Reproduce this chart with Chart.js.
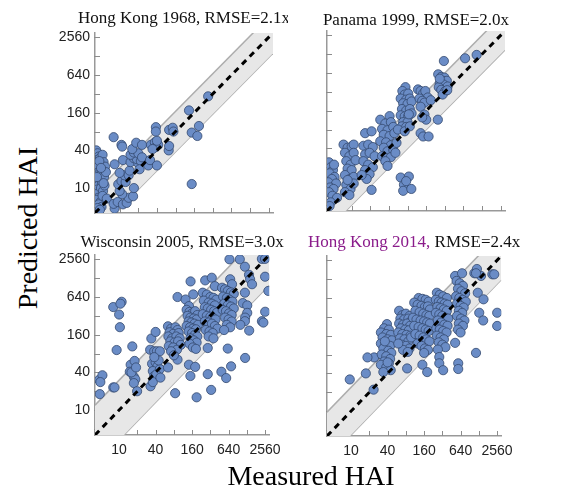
<!DOCTYPE html>
<html>
<head>
<meta charset="utf-8">
<script src="https://cdn.jsdelivr.net/npm/chart.js@4"></script>
<style>
  body { margin: 0; background: #fff; width: 571px; height: 496px; position: relative; overflow: hidden; }
  canvas { position: absolute; }
  .big { position: absolute; font-family: "Liberation Serif", "Times New Roman", serif; font-size: 28px; line-height: 28px; color: #000; text-align: center; white-space: nowrap; }
  #xlabel { left: 0; width: 622px; top: 462px; }
  #ylabel { left: -122px; top: 214px; width: 300px; height: 28px; transform: rotate(-90deg); }
</style>
</head>
<body>
<canvas id="p1" width="243" height="243" style="left:45px;top:0px"></canvas>
<canvas id="p2" width="243" height="243" style="left:277px;top:-2px"></canvas>
<canvas id="p3" width="243" height="243" style="left:45px;top:222px"></canvas>
<canvas id="p4" width="243" height="243" style="left:277px;top:223px"></canvas>
<div class="big" id="ylabel">Predicted HAI</div>
<div class="big" id="xlabel">Measured HAI</div>
<script>
// log2 axes, same range on both
const tickVals = [5, 10, 20, 40, 80, 160, 320, 640, 1280, 2560];
const tickLabels = [10, 40, 160, 640, 2560];
const axisMin = 4;
const axisMax = 3000;

const rmse = [2.1, 2.0, 3.0, 2.4];

// [measured, predicted]
const hongKong1968 = [
  [4.2,40],[4.4,36],[4.6,32],[4.3,28],[4.8,30],[5.0,25],[4.5,22],[5.3,34],[4.2,19],[4.7,20],
  [5.5,26],[4.4,16],[5.1,17],[4.9,14],[4.3,13],[5.8,22],[4.6,11],[5.2,12],[4.4,9.5],[5.6,15],
  [4.8,8.5],[4.2,8],[5.0,10],[4.5,7],[5.4,9],[4.3,6.5],[4.9,6],[5.7,11],[4.6,5.5],[5.1,5],
  [4.4,4.8],[5.3,7.5],[4.8,4.5],[4.2,24],[6.0,18],[5.5,12],[4.7,27],[5.0,21],[4.3,15],[6.2,6.8],
  [8.3,4.7],[8,5.6],[9.3,6],[11.3,5.5],[13,5.8],[14,7],[11,8],[10,9],[16.5,7.4],[17,10],
  [9.5,11.5],[10.7,13],[12.5,12.5],[12,16],[10,17.5],[14,16],[8.3,24],[11.3,28],[14.5,19],[15,26],
  [17,30],[20,25],[19,29],[22,27],[21,20],[15,34],[17,37],[20,36],[23,31],[16,42],
  [18.5,53],[23,49],[29,23],[31,28],[40,23],[10.7,49],[11,46],[8,65],[32,49],[37,54],
  [38,45],[42,49],[34,42],[40,57],[38.5,94],[38.5,80],[62,40],[63,47],[63,85],[72,92],
  [74,80],[132,174],[146,77],[180,68],[191,98],[269,292],[146,11.6]
];

const panama1999 = [
  [4.3,24],[4.6,20],[5.0,18],[4.4,16],[5.3,14],[4.8,13],[4.2,11.5],[5.6,11],[4.5,9.5],[5.1,9],
  [4.3,8],[4.9,7],[5.8,6.5],[4.6,5.5],[4.4,4.8],[5.2,22],
  [7.4,46],[8.6,41],[10,43],[10.8,46],[7.8,34],[9.2,30],[10.8,34],[8.2,25],[9.6,22],[11.6,26],
  [8.6,19],[10,18],[7.8,15],[9.4,13],[10.8,14],[8.2,10.5],[9.6,9],[7.8,8],[9.2,7.2],[10.8,11],[8.6,12.5],
  [16.5,70],[21,75],[15.5,44],[18.5,46],[22,42],[16.5,32],[19.5,34],[23.5,30],[15.5,25],[18.5,22],
  [22,20],[16.5,18],[19.5,15.5],[17.5,13],[21,8.7],[14.5,15],
  [41,131],[29,115],[35,100],[43,105],[31,82],[38,78],[47,88],[33,66],[41,63],[49,70],
  [29,52],[36,50],[43,45],[33,41],[38,36],[47,38],[31,30],[36,28],[43,29],[35,25],[38,21],[53,49],[51,34],
  [74,380],[66,330],[72,290],[82,300],[62,250],[76,240],[87,250],[68,210],[80,205],[93,225],
  [65,170],[76,160],[87,170],[62,135],[72,130],[82,130],[93,145],[68,105],[80,105],[65,90],
  [76,88],[56,80],[72,75],[87,90],[84,140],
  [118,350],[130,330],[143,300],[155,330],[170,260],[125,250],[138,230],[150,215],[190,235],[130,185],
  [150,139],[160,115],[130,70],[143,62],[175,62],[138,125],
  [250,610],[280,555],[315,540],[295,480],[345,480],[265,440],[305,420],[355,390],[255,380],[280,345],
  [325,330],[295,290],[350,340],[247,115],[265,520],
  [309,995],[680,1100],[1045,1245],
  [62,13.7],[84,14.2],[70,10.5],[68,8.4],[92,9.0],[76,12]
];

const wisconsin2005 = [
  [8,442],[11,537],[10.5,500],[10,336],[10.3,211],[9.1,91],
  [4.7,30.5],[5.3,36],[4.9,28],[4.8,18],[8,23],[8.4,23],
  [16.5,104],[15.5,53],[18,61],[15,41],[17.5,34],[18.5,31],[17.5,27],[16,40],[19.8,20],[19,48],
  [34,139],[40,177],[32.5,92],[38,87],[42,87],[47,87],[35,55],[40,58],[43,50],[36,42],
  [38,35],[47,45],[41,37],[33,24],[36,28],[48,33],[45,62],[38,70],
  [64,218],[72,200],[85,210],[92,190],[68,175],[78,165],[96,170],[65,150],[75,140],[88,150],
  [100,140],[70,125],[82,120],[94,125],[104,110],[66,105],[78,100],[90,92],[72,87],[64,48],
  [92,64],[84,18.6],[92,640],[80,75],
  [125,584],[142,458],[167,704],[151,1135],[130,400],[145,370],[160,350],[180,380],[195,330],[135,320],
  [150,300],[170,290],[190,280],[140,260],[155,250],[175,240],[200,230],[130,220],[148,210],[165,200],
  [185,195],[140,180],[160,170],[178,160],[195,150],[150,140],[170,130],[190,120],[145,115],[165,100],
  [185,95],[142,53],[180,49],[150,35],[190,16],
  [263,1180],[338,1300],[380,955],[240,750],[280,700],[320,640],[360,620],[400,580],[250,560],[300,520],
  [340,500],[380,470],[260,440],[290,420],[330,400],[370,380],[410,360],[240,340],[280,320],[320,310],
  [350,300],[390,280],[260,260],[300,250],[340,240],[380,220],[420,200],[270,190],[310,180],[350,170],
  [290,98],[290,37.5],[330,21],[300,150],[360,140],
  [662,2560],[680,1230],[730,1024],[500,900],[560,850],[620,800],[700,760],[780,720],[520,650],[600,620],
  [660,580],[740,540],[540,500],[620,470],[700,450],[780,420],[510,400],[580,380],[650,350],[720,330],
  [560,300],[640,280],[720,260],[600,230],[680,210],[540,190],[487,41],[584,32.5],[620,96],[704,50],
  [980,2560],[1190,1950],[1390,1450],[1450,1230],[1560,1024],[1190,750],[1100,512],[1300,470],[1300,357],[1200,300],
  [1190,263],[1000,230],[1400,186],[1200,68],[2270,263],[2400,250],[2570,372],[2560,1350],[2270,2600],[2560,2600],[2900,800]
];

const hongKong2014 = [
  [9.5,32],[17.5,40],[24,72],[18.6,72],[23.5,22],
  [39,245],[35,210],[42,200],[31,180],[38,170],[45,165],[33,150],[40,140],[47,135],[31,120],
  [37,115],[44,110],[34,100],[41,92],[46,85],[32,80],[38,75],[44,68],[35,62],[42,58],
  [31,55],[38,50],[45,45],[34,42],[40,60],[36,130],
  [62,400],[70,340],[80,360],[92,330],[65,300],[75,290],[88,300],[96,270],[62,250],[72,240],
  [84,250],[94,230],[66,210],[78,200],[90,195],[60,180],[70,170],[82,165],[95,160],[64,145],
  [76,140],[88,130],[68,115],[80,110],[92,100],[72,95],[86,88],[84,48],[98,150],[60,120],
  [130,640],[150,620],[170,600],[190,560],[110,540],[125,500],[145,480],[165,460],[185,470],[200,420],
  [115,400],[135,380],[155,360],[175,340],[195,330],[105,310],[120,290],[140,280],[160,270],[180,260],
  [200,250],[110,230],[130,220],[150,210],[170,200],[190,190],[115,170],[135,160],[155,150],[175,140],
  [195,130],[125,120],[145,110],[165,100],[185,95],[150,55],[180,42],[160,85],
  [260,776],[290,720],[330,680],[380,640],[250,600],[280,560],[310,540],[350,520],[390,500],[265,460],
  [300,440],[340,420],[380,400],[250,370],[285,350],[320,330],[360,310],[400,300],[270,280],[305,260],
  [345,240],[390,230],[255,210],[290,200],[330,190],[375,180],[260,160],[300,150],[340,140],[280,125],
  [320,115],[360,105],[270,96],[285,73],[285,58],[330,45],
  [520,1440],[677,1590],[550,1200],[620,1100],[700,1000],[580,900],[660,820],[760,760],[540,680],[610,640],
  [690,600],[780,560],[560,520],[640,480],[720,450],[600,400],[680,370],[560,330],[650,300],[740,280],
  [600,250],[700,230],[580,200],[640,180],[520,123],[585,58],[585,47],
  [1080,1590],[1190,1860],[1390,1440],[1150,1590],[1230,776],[1530,610],[1300,372],[1510,280],[1150,85],
  [2570,372],[2570,229],[2140,1530],[2300,1530]
];

const titles = [
  [['Hong Kong 1968, RMSE=2.1x', '#111']],
  [['Panama 1999, RMSE=2.0x', '#111']],
  [['Wisconsin 2005, RMSE=3.0x', '#111']],
  [['Hong Kong 2014,', '#8b1c8b'], [' RMSE=2.4x', '#111']]
];

const panels = [
  { id: 'p1', pts: hongKong1968, r: rmse[0], title: titles[0], baseline: 23, xLab: false, yLab: true },
  { id: 'p2', pts: panama1999, r: rmse[1], title: titles[1], baseline: 27, xLab: false, yLab: false },
  { id: 'p3', pts: wisconsin2005, r: rmse[2], title: titles[2], baseline: 25, xLab: true, yLab: true },
  { id: 'p4', pts: hongKong2014, r: rmse[3], title: titles[3], baseline: 24, xLab: true, yLab: false }
];

const innerTicks = {
  id: 'innerTicks',
  beforeDatasetsDraw(chart) {
    const { ctx, chartArea: a, scales: { x, y } } = chart;
    ctx.save();
    ctx.strokeStyle = '#8c8c8c';
    ctx.lineWidth = 1;
    ctx.beginPath();
    tickVals.forEach(v => {
      const px = Math.round(x.getPixelForValue(v)) + 0.5;
      ctx.moveTo(px, a.bottom);
      ctx.lineTo(px, a.bottom - 5);
      const py = Math.round(y.getPixelForValue(v)) + 0.5;
      ctx.moveTo(a.left - 1, py);
      ctx.lineTo(a.left + 5, py);
    });
    ctx.stroke();
    ctx.restore();
  }
};

const panelTitle = {
  id: 'panelTitle',
  afterDraw(chart, args, opts) {
    const { ctx, chartArea: a } = chart;
    ctx.save();
    ctx.font = '17px "Liberation Serif", "Times New Roman", serif';
    ctx.textBaseline = 'alphabetic';
    ctx.textAlign = 'left';
    const total = opts.parts.reduce((s, p) => s + ctx.measureText(p[0]).width, 0);
    let x = (a.left + a.right) / 2 - total / 2;
    opts.parts.forEach(p => {
      ctx.fillStyle = p[1];
      ctx.fillText(p[0], x, opts.baseline);
      x += ctx.measureText(p[0]).width;
    });
    ctx.restore();
  }
};

function axis(showLabels, isX) {
  return {
    type: 'logarithmic',
    min: axisMin,
    max: axisMax,
    afterBuildTicks: s => { s.ticks = tickVals.map(v => ({ value: v })); },
    afterFit: s => { if (isX) s.height = 30; else s.width = 50; },
    grid: { display: true, drawOnChartArea: false, drawTicks: false },
    border: { display: true, color: '#999', width: 1.5 },
    ticks: {
      autoSkip: false,
      maxRotation: 0,
      padding: isX ? 7 : 5,
      color: '#222',
      font: { family: 'Liberation Sans', size: 14 },
      callback: v => (showLabels && tickLabels.includes(v)) ? String(v) : ''
    }
  };
}

panels.forEach(p => {
  new Chart(document.getElementById(p.id), {
    type: 'scatter',
    data: {
      datasets: [
        {
          type: 'line',
          data: [{ x: axisMin, y: axisMin }, { x: axisMax, y: axisMax }],
          borderColor: '#000', borderWidth: 3, borderDash: [6, 5],
          pointRadius: 0, fill: false, order: 0
        },
        {
          data: p.pts.map(([x, y]) => ({ x, y })),
          backgroundColor: '#6a8cc6', borderColor: '#33496f', borderWidth: 0.8,
          pointRadius: 4.6, clip: 0, order: 1
        },
        {
          type: 'line',
          data: [{ x: axisMin, y: axisMin * p.r }, { x: axisMax, y: axisMax * p.r }],
          borderColor: '#adadad', borderWidth: 1.5, backgroundColor: '#e7e7e7',
          pointRadius: 0, fill: '+1', order: 2
        },
        {
          type: 'line',
          data: [{ x: axisMin, y: axisMin / p.r }, { x: axisMax, y: axisMax / p.r }],
          borderColor: '#adadad', borderWidth: 1.5,
          pointRadius: 0, fill: false, order: 3
        }
      ]
    },
    options: {
      responsive: false,
      animation: false,
      layout: { padding: { top: 33, right: 15, left: 0, bottom: 0 }, autoPadding: false },
      scales: { x: axis(p.xLab, true), y: axis(p.yLab, false) },
      plugins: {
        legend: { display: false },
        tooltip: { enabled: false },
        panelTitle: { parts: p.title, baseline: p.baseline }
      }
    },
    plugins: [innerTicks, panelTitle]
  });
});
</script>
</body>
</html>
